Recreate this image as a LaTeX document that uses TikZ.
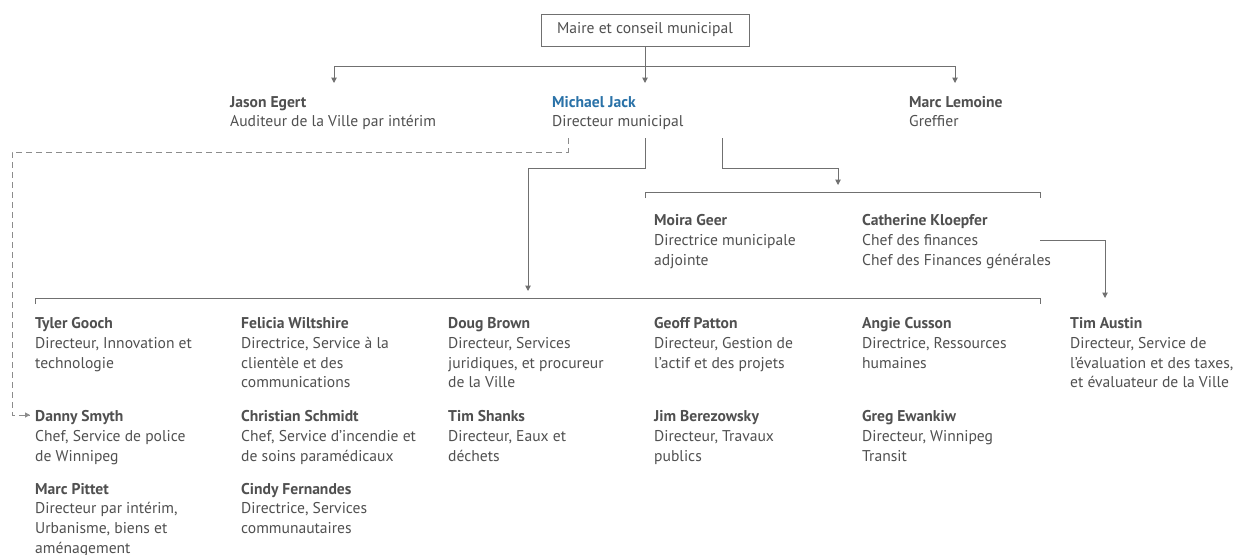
\documentclass[tikz,border=0pt]{standalone}
\usepackage{fontspec}
\setmainfont{PT Sans}
\usetikzlibrary{arrows.meta}
\definecolor{txt}{HTML}{505050}
\definecolor{ln}{HTML}{707070}
\definecolor{dashc}{HTML}{8C8C8C}
\definecolor{mjblue}{HTML}{2A72A8}
\newcommand\pers[2]{\begin{tabular}[t]{@{}l@{}}\textbf{#1}\\#2\end{tabular}}
\begin{document}
\begin{tikzpicture}[x=1pt,y=-1pt,
  every node/.style={font=\fontsize{15.6}{19.8}\selectfont, text=txt},
  person/.style={anchor=base west, inner sep=0pt},
  conn/.style={draw=ln, line width=1pt},
  arr/.style={conn, -{Triangle[width=5.5pt,length=5.5pt]}},
  dashconn/.style={draw=dashc, line width=1pt, dash pattern=on 6pt off 4pt},
  topbox/.style={draw=ln, line width=1pt, minimum width=208pt, minimum height=32pt, inner sep=0pt}]
\useasboundingbox (0,0) rectangle (1247,554);
\fill[white] (0,0) rectangle (1247,554);

\node[topbox] (maire) at (645,30) {Maire et conseil municipal};

\node[person] (egert) at (230,107) {\pers{Jason Egert}{Auditeur de la Ville par intérim}};
\node[person] (jack) at (552,107) {\begin{tabular}[t]{@{}l@{}}\textcolor{mjblue}{\textbf{Michael Jack}}\\Directeur municipal\end{tabular}};
\node[person] (lemoine) at (909,107) {\pers{Marc Lemoine}{Greffier}};

\node[person] (geer) at (654,225.5) {\pers{Moira Geer}{Directrice municipale\\adjointe}};
\node[person] (kloepfer) at (862,225.5) {\pers{Catherine Kloepfer}{Chef des finances\\Chef des Finances générales}};

\node[person] (gooch) at (35,328.5) {\pers{Tyler Gooch}{Directeur, Innovation et\\technologie}};
\node[person] (wiltshire) at (241,328.5) {\pers{Felicia Wiltshire}{Directrice, Service à la\\clientèle et des\\communications}};
\node[person] (brown) at (448,328.5) {\pers{Doug Brown}{Directeur, Services\\juridiques, et procureur\\de la Ville}};
\node[person] (patton) at (654,328.5) {\pers{Geoff Patton}{Directeur, Gestion de\\l’actif et des projets}};
\node[person] (cusson) at (862,328.5) {\pers{Angie Cusson}{Directrice, Ressources\\humaines}};
\node[person] (austin) at (1070,328.5) {\pers{Tim Austin}{Directeur, Service de\\l’évaluation et des taxes,\\et évaluateur de la Ville}};

\node[person] (smyth) at (35,421.5) {\pers{Danny Smyth}{Chef, Service de police\\de Winnipeg}};
\node[person] (schmidt) at (241,421.5) {\pers{Christian Schmidt}{Chef, Service d’incendie et\\de soins paramédicaux}};
\node[person] (shanks) at (448,421.5) {\pers{Tim Shanks}{Directeur, Eaux et\\déchets}};
\node[person] (berezowsky) at (654,421.5) {\pers{Jim Berezowsky}{Directeur, Travaux\\publics}};
\node[person] (ewankiw) at (862,421.5) {\pers{Greg Ewankiw}{Directeur, Winnipeg\\Transit}};

\node[person] (pittet) at (35,494) {\pers{Marc Pittet}{Directeur par intérim,\\Urbanisme, biens et\\aménagement}};
\node[person] (fernandes) at (241,494) {\pers{Cindy Fernandes}{Directrice, Services\\communautaires}};

% junction coordinates
\coordinate (bar) at (645,66);
\coordinate (egertTop) at (334,83);
\coordinate (jackTop) at (645,83);
\coordinate (lemoineTop) at (955,83);
\draw[conn] (maire.south) -- (bar);
\draw[arr] (bar) -| (egertTop);
\draw[arr] (bar) -| (lemoineTop);
\draw[arr] (bar) -- (jackTop);

% Michael Jack outgoing
\coordinate (jd1) at (568,138);
\coordinate (jd2) at (645,138);
\coordinate (jd3) at (722,138);
\coordinate (dashEnd) at (30,415);
\draw[dashconn] (jd1) -- (568,152) -- (12,152) -- (12,415) -- (dashEnd);
\draw[draw=dashc, line width=1pt, -{Triangle[width=5pt,length=5pt]}] (24,415) -- (dashEnd);

\coordinate (brk2) at (528,291);
\draw[arr] (jd2) -- (645,168) -| (brk2);

\coordinate (brk1) at (838,185);
\draw[arr] (jd3) -- (722,168) -| (brk1);

% bracket for deputy/CFO
\draw[conn] (645,198) -- (645,192) -- (1040,192) -- (1040,198);
% bracket for departments
\draw[conn] (35,304) -- (35,298) -- (1040,298) -- (1040,304);

% CFO -> Tim Austin
\coordinate (cfo) at (1040,240);
\coordinate (austinTop) at (1105,298);
\draw[arr] (cfo) -| (austinTop);
\end{tikzpicture}
\end{document}
